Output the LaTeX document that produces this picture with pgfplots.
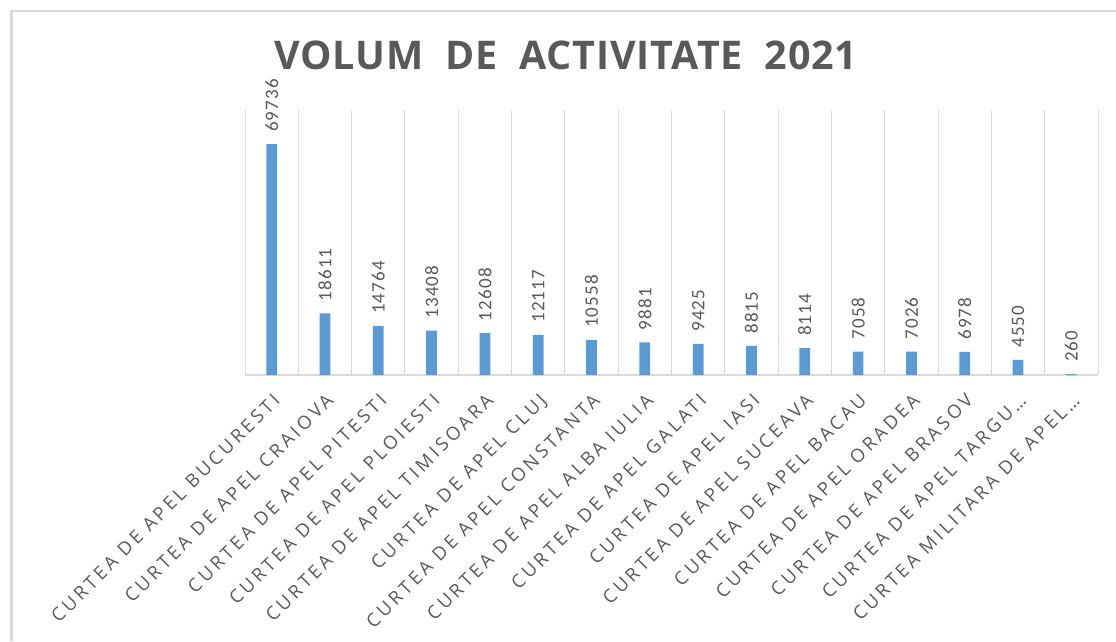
\documentclass[border=0pt]{standalone}
\usepackage{fontspec}
\setmainfont{Carlito}
\usepackage{pgfplots}
\pgfplotsset{compat=1.18}
\newfontfamily\titlefont[LetterSpace=2]{Open Sans}
\newfontfamily\tickfont[LetterSpace=18]{Open Sans}
\newfontfamily\valfont[LetterSpace=6]{Carlito}
\definecolor{barblue}{HTML}{5B9BD5}
\definecolor{txtgray}{HTML}{595959}
\definecolor{gridgray}{HTML}{D9D9D9}
\begin{document}
\begin{tikzpicture}
\path[use as bounding box] (0pt,0pt) rectangle (1116pt,641pt);
\draw[gridgray, line width=2.5pt] (11.25pt,0pt) -- (11.25pt,629.75pt) -- (1116pt,629.75pt);
\node[anchor=base, font=\titlefont\bfseries\fontsize{39.5}{46}\selectfont, text=txtgray, inner sep=0pt] at (566pt,571pt) {VOLUM\hspace{11pt} DE\hspace{11pt} ACTIVITATE\hspace{11pt} 2021};
\begin{axis}[
  at={(245pt,266pt)}, anchor=south west, scale only axis,
  width=853pt, height=265pt,
  xmin=-0.5, xmax=15.5, ymin=0, ymax=80000,
  axis y line=none, axis x line*=bottom,
  x axis line style={gridgray, line width=1.2pt, -},
  xtick={0,...,15},
  minor xtick={-0.5,0.5,...,15.5},
  xminorgrids, minor x grid style={gridgray, line width=1pt},
  major tick length=0pt, minor tick length=0pt,
  xticklabels={CURTEA DE APEL BUCURESTI, CURTEA DE APEL CRAIOVA, CURTEA DE APEL PITESTI, CURTEA DE APEL PLOIESTI, CURTEA DE APEL TIMISOARA, CURTEA DE APEL CLUJ, CURTEA DE APEL CONSTANTA, CURTEA DE APEL ALBA IULIA, CURTEA DE APEL GALATI, CURTEA DE APEL IASI, CURTEA DE APEL SUCEAVA, CURTEA DE APEL BACAU, CURTEA DE APEL ORADEA, CURTEA DE APEL BRASOV, CURTEA DE APEL TARGU…, CURTEA MILITARA DE APEL…},
  x tick label style={xshift=0pt, yshift=-17pt, rotate=45, anchor=north east, font=\tickfont\fontsize{18.5}{20}\selectfont, text=txtgray, inner sep=0pt},
  nodes near coords={\valfont\pgfmathprintnumber[assume math mode=true,1000 sep={}]{\pgfplotspointmeta}},
  every node near coord/.append style={rotate=90, anchor=west, text=txtgray, font=\fontsize{19}{21}\selectfont, inner xsep=12pt, inner ysep=0pt},
  clip=false,
]
\addplot[ybar, bar width=10.7pt, fill=barblue, draw=none] coordinates {
(0,69736) (1,18611) (2,14764) (3,13408) (4,12608) (5,12117) (6,10558) (7,9881)
(8,9425) (9,8815) (10,8114) (11,7058) (12,7026) (13,6978) (14,4550) (15,260)};
\end{axis}
\end{tikzpicture}
\end{document}
